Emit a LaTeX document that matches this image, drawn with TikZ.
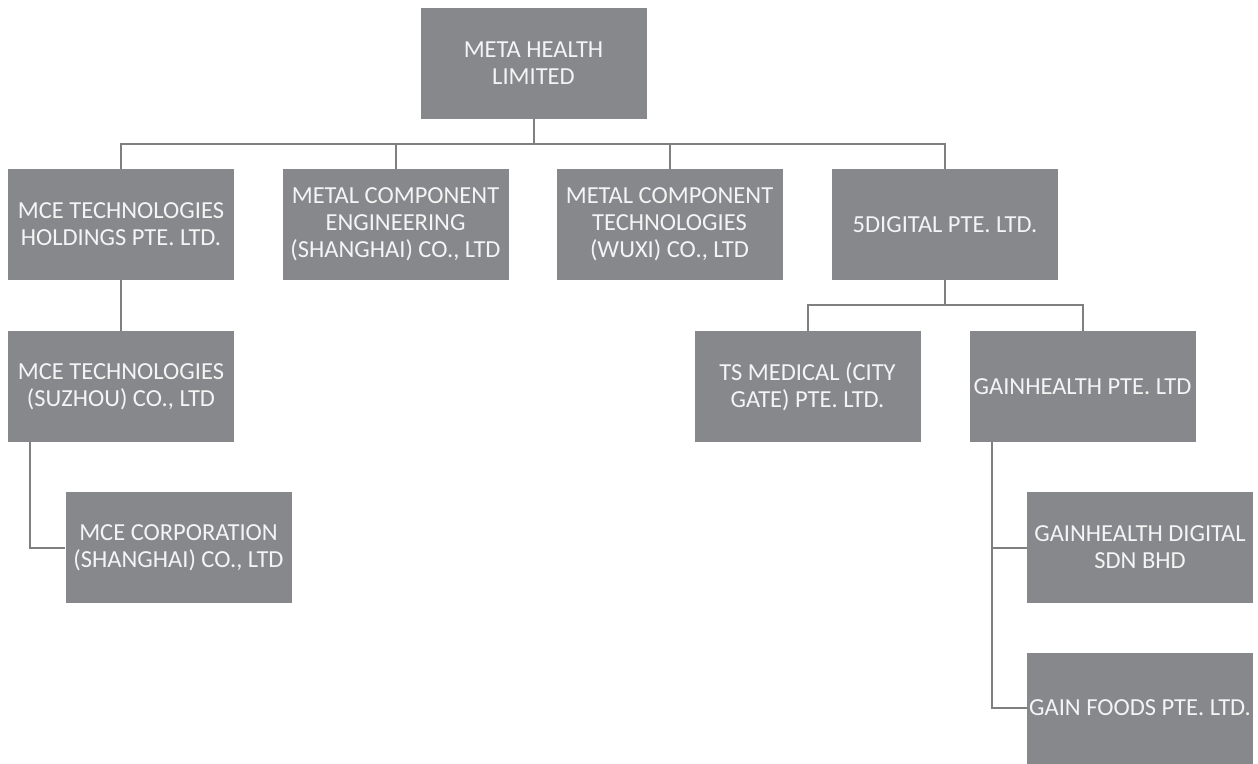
\documentclass[tikz,border=0pt]{standalone}
\usepackage{fontspec}
\setmainfont{Carlito}
\definecolor{boxgray}{HTML}{87888C}
\definecolor{linegray}{HTML}{7F7F7F}
\definecolor{txt}{HTML}{F4F4F4}
\begin{document}
\begin{tikzpicture}[x=1pt,y=-1pt,
  org/.style={fill=boxgray,draw=none,inner sep=0pt,minimum width=226pt,minimum height=111pt,
    text=txt,align=center,font=\fontsize{24.5}{27}\selectfont},
  conn/.style={draw=linegray,line width=2pt}]
\useasboundingbox (0,0) rectangle (1258,763);
\node[org] (top) at (533.5,63.5) {META HEALTH\\LIMITED};
\node[org] (mceh) at (121,224.5) {MCE TECHNOLOGIES\\HOLDINGS PTE. LTD.};
\node[org] (mceng) at (395.5,224.5) {METAL COMPONENT\\ENGINEERING\\(SHANGHAI) CO., LTD};
\node[org] (mcwx) at (669.5,224.5) {METAL COMPONENT\\TECHNOLOGIES\\(WUXI) CO., LTD};
\node[org] (fived) at (945,224.5) {5DIGITAL PTE. LTD.};
\node[org] (mcesz) at (121,386.5) {MCE TECHNOLOGIES\\(SUZHOU) CO., LTD};
\node[org] (ts) at (807.5,386.5) {TS MEDICAL (CITY\\GATE) PTE. LTD.};
\node[org] (gh) at (1082.5,386.5) {GAINHEALTH PTE. LTD};
\node[org] (mcec) at (178.5,547.5) {MCE CORPORATION\\(SHANGHAI) CO., LTD};
\node[org] (ghd) at (1140,547.5) {GAINHEALTH DIGITAL\\SDN BHD};
\node[org] (gf) at (1140,708) {GAIN FOODS PTE. LTD.};
% top bus
\coordinate (bus1) at (533.5,144);
\draw[conn] (top.south) -- (bus1);
\draw[conn] (bus1) -| (mceh.north);
\draw[conn] (bus1) -| (mceng.north);
\draw[conn] (bus1) -| (mcwx.north);
\draw[conn] (bus1) -| (fived.north);
% MCE chain
\draw[conn] (mceh.south) -- (mcesz.north);
\coordinate (sz) at (30,442);
\draw[conn] (sz) |- (mcec.west);
% 5digital bus
\coordinate (bus2) at (945,305);
\draw[conn] (fived.south) -- (bus2);
\draw[conn] (bus2) -| (ts.north);
\draw[conn] (bus2) -| (gh.north);
% gainhealth children
\coordinate (ghx) at (992,442);
\draw[conn] (ghx) |- (ghd.west);
\draw[conn] (ghx) |- (gf.west);
\end{tikzpicture}
\end{document}
